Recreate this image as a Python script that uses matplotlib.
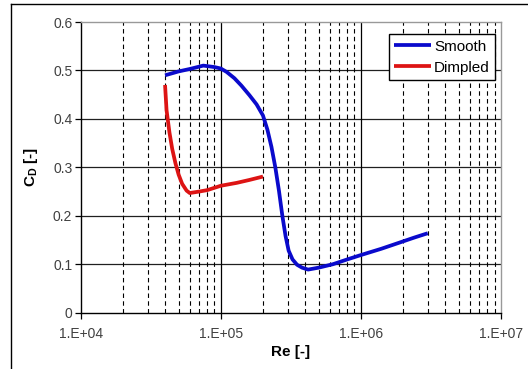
import matplotlib
matplotlib.use("Agg")
import matplotlib.pyplot as plt
from matplotlib.lines import Line2D
import numpy as np

plt.rcParams['font.family'] = ['Liberation Sans', 'DejaVu Sans']
plt.rcParams['mathtext.fontset'] = 'custom'
plt.rcParams['mathtext.bf'] = 'Liberation Sans:bold'
plt.rcParams['mathtext.rm'] = 'Liberation Sans'

# Data
smooth_re = [4.0e4, 5.0e4, 6.0e4, 7.5e4, 9.0e4, 1.0e5, 1.1e5, 1.25e5, 1.4e5, 1.6e5, 1.8e5, 2.0e5,
             2.15e5, 2.3e5, 2.45e5, 2.6e5, 2.75e5, 2.9e5, 3.05e5, 3.25e5, 3.5e5, 3.8e5, 4.2e5,
             5.0e5, 6.3e5, 8.0e5, 1.0e6, 1.4e6, 1.9e6, 2.4e6, 3.0e6]
smooth_cd = [0.490, 0.498, 0.503, 0.510, 0.507, 0.504, 0.497, 0.484, 0.469, 0.449, 0.430, 0.407,
             0.378, 0.342, 0.300, 0.252, 0.200, 0.158, 0.128, 0.110, 0.099, 0.093, 0.089,
             0.093, 0.100, 0.110, 0.119, 0.132, 0.145, 0.155, 0.164]

dimpled_re = [4.0e4, 4.1e4, 4.3e4, 4.5e4, 4.75e4, 5.0e4, 5.3e4, 5.7e4, 6.0e4, 7.0e4, 8.0e4,
              1.0e5, 1.3e5, 1.6e5, 2.0e5]
dimpled_cd = [0.470, 0.418, 0.372, 0.338, 0.308, 0.285, 0.266, 0.252, 0.247, 0.250, 0.253,
              0.262, 0.268, 0.274, 0.281]

series_names = ['Smooth', 'Dimpled']
series_colors = ['#0A0ACC', '#DD1414']

y_ticks = [0, 0.1, 0.2, 0.3, 0.4, 0.5, 0.6]
y_labels = ['0', '0.1', '0.2', '0.3', '0.4', '0.5', '0.6']
x_ticks = [1e4, 1e5, 1e6, 1e7]
x_labels = ['1.E+04', '1.E+05', '1.E+06', '1.E+07']

W, H = 528, 369
fig = plt.figure(figsize=(W / 100, H / 100), dpi=100)
fig.patch.set_facecolor('white')

# outer chart-area border (left and top visible)
fig.add_artist(Line2D([11 / W, 11 / W], [0, 1 - 4 / H], color='black', lw=1.0,
                      transform=fig.transFigure))
fig.add_artist(Line2D([11 / W, 1], [1 - 4 / H, 1 - 4 / H], color='black', lw=1.0,
                      transform=fig.transFigure))

ax = fig.add_axes([80.7 / W, 1 - 312.7 / H, (501 - 80.7) / W, (312.7 - 22) / H])
ax.set_xscale('log')
ax.set_xlim(1e4, 1e7)
ax.set_ylim(0, 0.6)

# grid lines
for yv in y_ticks[1:-1]:
    ax.axhline(yv, color='#202020', lw=0.9, zorder=1)
for dec in [1e4, 1e5, 1e6]:
    for m in range(2, 10):
        ax.axvline(dec * m, color='black', lw=0.8, ls=(0, (4, 3)), zorder=1)
for xv in [1e5, 1e6]:
    ax.axvline(xv, color='black', lw=0.9, zorder=1)

ax.plot(smooth_re, smooth_cd, color=series_colors[0], lw=2.7, label=series_names[0],
        zorder=3, solid_capstyle='butt', solid_joinstyle='round')
ax.plot(dimpled_re, dimpled_cd, color=series_colors[1], lw=2.7, label=series_names[1],
        zorder=3, solid_capstyle='butt', solid_joinstyle='round')

for s in ['top', 'right']:
    ax.spines[s].set_color('#999999')
    ax.spines[s].set_linewidth(1.0)
for s in ['left', 'bottom']:
    ax.spines[s].set_color('black')
    ax.spines[s].set_linewidth(1.0)

ax.set_yticks(y_ticks)
ax.set_yticklabels(y_labels)
ax.set_xticks(x_ticks)
ax.set_xticklabels(x_labels)
ax.xaxis.set_minor_locator(matplotlib.ticker.NullLocator())
ax.tick_params(axis='both', direction='out', length=4, width=0.9, color='black',
               labelsize=10, labelcolor='#404040')
ax.tick_params(axis='y', pad=2)
ax.tick_params(axis='x', pad=6)

ax.set_xlabel('Re [-]', fontsize=11, fontweight='bold', labelpad=3)
ax.set_ylabel(r'$\mathbf{C_D}$ [-]', fontsize=11, fontweight='bold', labelpad=9)

leg = ax.legend(loc='upper right', bbox_to_anchor=(495 / W, 1 - 34.3 / H),
                bbox_transform=fig.transFigure, fontsize=11, frameon=True,
                fancybox=False, edgecolor='black', framealpha=1.0,
                handlelength=2.4, handletextpad=0.2, borderpad=0.35,
                labelspacing=0.45, borderaxespad=0)
leg.get_frame().set_linewidth(1.0)

fig.savefig('out.png', dpi=100, facecolor='white')
